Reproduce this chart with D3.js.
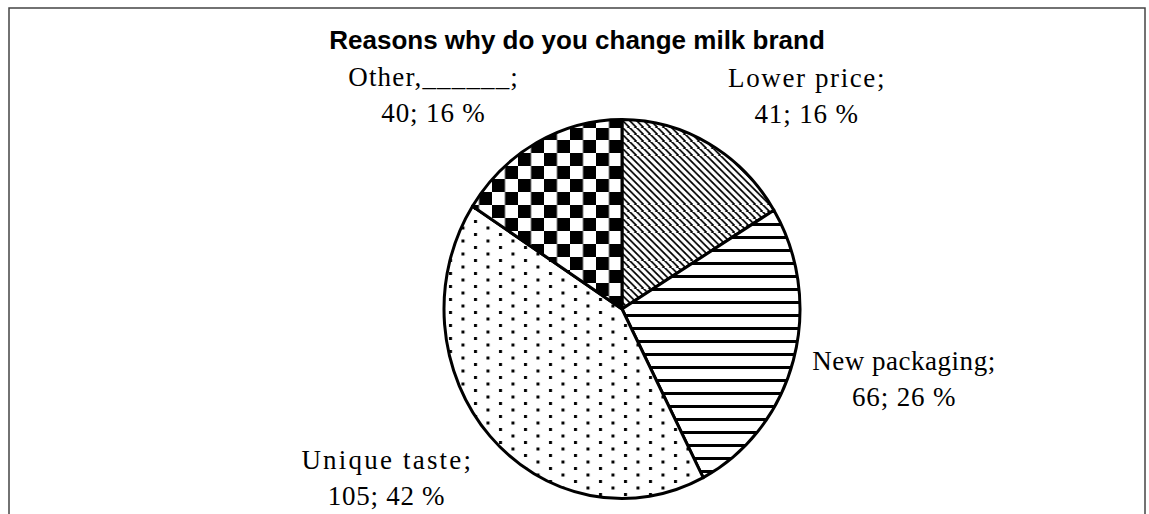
<!DOCTYPE html>
<html>
<head>
<meta charset="utf-8">
<script src="https://cdn.jsdelivr.net/npm/d3@7"></script>
<style>
  html, body { margin: 0; padding: 0; background: #fff; }
  svg { display: block; }
</style>
</head>
<body>
<div id="chart"></div>
<script>
// Milk brand survey — pie with pattern fills, labels outside.
const title = 'Reasons why do you change milk brand';
const categories = ['Lower price', 'New packaging', 'Unique taste', 'Other,______'];
const counts = [41, 66, 105, 40];
const percents = [16, 26, 42, 16];
const patternIds = ['diag', 'horiz', 'dots', 'checker'];

const width = 1149;
const height = 514;
const cx = 622, cy = 309;
const ry = 189.5, rx = 178;
const sx = rx / ry;
const charW = 13.2; // monospace-like advance for labels

const svg = d3.select('#chart').append('svg')
  .attr('width', width).attr('height', height);

// Patterns (counter-scaled so they stay square inside the squashed pie)
const defs = svg.append('defs');
const unscale = `scale(${1 / sx},1)`;

function makePattern(id, w, h) {
  const p = defs.append('pattern').attr('id', id)
    .attr('patternUnits', 'userSpaceOnUse')
    .attr('width', w).attr('height', h)
    .attr('patternTransform', unscale);
  p.append('rect').attr('width', w).attr('height', h).attr('fill', '#fff');
  return p;
}

makePattern('diag', 7, 7).append('path')
  .attr('d', 'M-1,-1L8,8M-1,6L1,8M6,-1L8,1')
  .attr('stroke', '#000').attr('stroke-width', 1.7);

makePattern('horiz', 13, 13).append('rect')
  .attr('y', 5).attr('width', 13).attr('height', 3).attr('fill', '#000');

const pDots = makePattern('dots', 25, 13);
pDots.append('rect').attr('x', 2).attr('y', 2).attr('width', 3).attr('height', 3).attr('fill', '#000');
pDots.append('rect').attr('x', 14.5).attr('y', 8.5).attr('width', 3).attr('height', 3).attr('fill', '#000');

const pCheck = makePattern('checker', 26, 26);
pCheck.append('rect').attr('width', 13).attr('height', 13).attr('fill', '#000');
pCheck.append('rect').attr('x', 13).attr('y', 13).attr('width', 13).attr('height', 13).attr('fill', '#000');

// Frame
svg.append('rect')
  .attr('x', 9).attr('y', 8).attr('width', 1136).attr('height', 530)
  .attr('fill', 'none').attr('stroke', '#444').attr('stroke-width', 1.5);

// Title
svg.append('text')
  .attr('x', 577).attr('y', 49)
  .attr('text-anchor', 'middle')
  .attr('font-family', '"Liberation Sans", Arial, sans-serif')
  .attr('font-size', '26px').attr('font-weight', 'bold')
  .attr('fill', '#000')
  .text(title);

// Pie
const pie = d3.pie().sort(null).value(d => d)(counts);
const arc = d3.arc().innerRadius(0).outerRadius(ry);

const g = svg.append('g')
  .attr('transform', `translate(${cx},${cy}) scale(${sx},1)`);

g.selectAll('path.slice')
  .data(pie)
  .join('path')
  .attr('class', 'slice')
  .attr('d', arc)
  .attr('fill', (d, i) => `url(#${patternIds[i]})`)
  .attr('stroke', '#000')
  .attr('stroke-width', 3)
  .attr('stroke-linejoin', 'round')
  .attr('vector-effect', 'non-scaling-stroke');

// Labels, placed just outside the rim at each slice's mid angle
const labelFont = '"Liberation Serif", "Times New Roman", serif';
pie.forEach((d, i) => {
  const a = (d.startAngle + d.endAngle) / 2;
  const s = Math.sin(a), c = Math.cos(a);
  const ex = cx + rx * s;
  const ey = cy - ry * c;
  const line1 = categories[i] + ';';
  const line2 = `${counts[i]}; ${percents[i]} %`;
  const w = Math.max(line1.length, line2.length) * charW;
  const lx = ex + Math.sign(s) * (18 + w / 2);
  const boxCy = ey - c * 58 + 3.3;
  const b1 = boxCy - 9;

  [line1, line2].forEach((t, k) => {
    svg.append('text')
      .attr('x', lx).attr('y', b1 + k * 36)
      .attr('text-anchor', 'middle')
      .attr('font-family', labelFont)
      .attr('font-size', '27px')
      .attr('fill', '#000')
      .attr('textLength', t.length * charW - 2)
      .attr('lengthAdjust', 'spacing')
      .text(t);
  });
});
</script>
</body>
</html>
